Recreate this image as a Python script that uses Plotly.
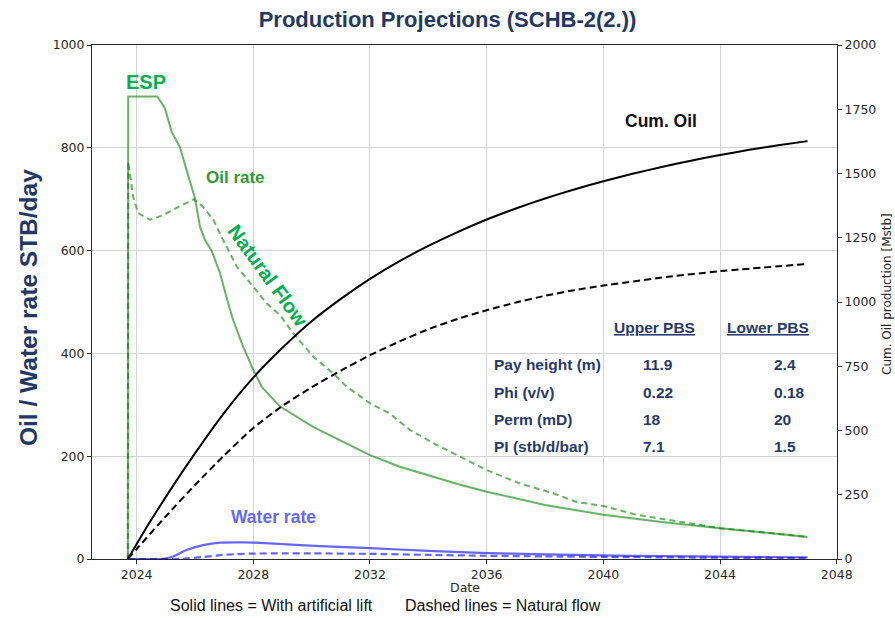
import plotly.graph_objects as go

# ---------------- data ----------------
oil_esp_years = [2023.70, 2023.71, 2024.71, 2024.97, 2025.20, 2025.48, 2025.71, 2026.00, 2026.17,
                 2026.34, 2026.57, 2026.86, 2027.14, 2027.31, 2027.65, 2028.00, 2028.29, 2028.91,
                 2030.05, 2032.00, 2033.00, 2034.00, 2035.00, 2036.00, 2038.00, 2040.00, 2042.00,
                 2044.00, 2047.00]
oil_esp_rate = [0, 900, 900, 877, 831, 802, 757, 702, 647,
                621, 600, 556, 497, 465, 413, 368, 335, 297,
                257, 202, 180, 163, 146, 131, 105, 86, 72,
                60, 43]

oil_nf_years = [2023.70, 2023.71, 2023.88, 2024.05, 2024.46, 2024.91, 2025.43, 2025.96, 2026.28,
                2026.63, 2026.91, 2027.43, 2028.00, 2028.46, 2028.91, 2029.37, 2030.05, 2030.74,
                2031.20, 2032.00, 2032.68, 2033.37, 2034.28, 2035.43, 2036.00, 2037.14, 2038.28,
                2039.08, 2040.00, 2041.14, 2042.28, 2044.00, 2047.00]
oil_nf_rate = [0, 773, 705, 673, 660, 669, 685, 700, 685,
               660, 627, 569, 530, 497, 475, 439, 394, 361,
               335, 303, 283, 251, 222, 189, 173, 147, 128,
               111, 103, 86, 76, 60, 43]

water_esp_years = [2023.70, 2024.90, 2025.25, 2025.71, 2026.28, 2026.86, 2027.43, 2028.00, 2028.57,
                   2030.28, 2032.00, 2034.00, 2035.77, 2038.00, 2040.00, 2042.00, 2044.00, 2047.00]
water_esp_rate = [0, 0.5, 5, 17.5, 27, 32, 32.5, 32, 30.5,
                  25, 21, 16, 12, 9, 7, 5.5, 4.5, 3.3]

water_nf_years = [2023.70, 2025.50, 2026.28, 2026.86, 2027.43, 2028.00, 2029.00, 2030.05, 2032.00,
                  2034.00, 2035.77, 2038.00, 2040.00, 2044.00, 2047.00]
water_nf_rate = [0, 0.3, 4, 7.5, 9.5, 10.5, 11, 11, 10,
                 8, 6.5, 5, 4, 2.5, 1.5]

cum_esp_years = [2023.70, 2024.40, 2025.14, 2026, 2027, 2028, 2029, 2030, 2031, 2032, 2033, 2034,
                 2035, 2036, 2037, 2038, 2039, 2040, 2041, 2042, 2043, 2044, 2045, 2046, 2047]
cum_esp_mstb = [0, 134, 266, 411, 569, 706, 822, 925, 1012, 1090, 1158, 1218,
                1272, 1321, 1364, 1403, 1438, 1470, 1499, 1525, 1550, 1572, 1592, 1610, 1626]

cum_nf_years = [2023.70, 2024, 2025, 2026, 2027, 2028, 2029, 2030, 2031, 2032, 2033, 2034,
                2035, 2036, 2037, 2038, 2039, 2040, 2042, 2044, 2047]
cum_nf_mstb = [0, 39, 166, 288, 403, 510, 596, 668, 733, 793, 846, 894,
               934, 968, 998, 1024, 1046, 1064, 1095, 1120, 1148]

x_ticks = [2024, 2028, 2032, 2036, 2040, 2044, 2048]
y_left_ticks = [0, 200, 400, 600, 800, 1000]
y_right_ticks = [0, 250, 500, 750, 1000, 1250, 1500, 1750, 2000]

table_rows = ["Pay height (m)", "Phi (v/v)", "Perm (mD)", "PI (stb/d/bar)"]
table_headers = ["Upper PBS", "Lower PBS"]
upper_vals = ["11.9", "0.22", "18", "7.1"]
lower_vals = ["2.4", "0.18", "20", "1.5"]

# ---------------- styles ----------------
GREEN = "rgba(0,128,0,0.6)"
BLUE = "rgba(0,0,255,0.6)"
NAVY = "#1f3864"
TNAVY = "#27396b"
ARIAL = "Liberation Sans, Arial, sans-serif"
DEJAVU = "DejaVu Sans, sans-serif"
AX = "#262626"

# plot area in pixels
L, R, T, B = 92, 837, 45, 559
W, H = 895, 618


def px(xp):
    return (xp - L) / (R - L)


def py(yp):
    return (B - yp) / (B - T)


fig = go.Figure()

fig.add_trace(go.Scatter(x=water_esp_years, y=water_esp_rate, mode="lines",
                         line=dict(color=BLUE, width=2.2, shape="spline", smoothing=0.6),
                         showlegend=False, hoverinfo="skip"))
fig.add_trace(go.Scatter(x=water_nf_years, y=water_nf_rate, mode="lines",
                         line=dict(color=BLUE, width=2.2, dash="7px,4px", shape="spline", smoothing=0.6),
                         showlegend=False, hoverinfo="skip"))
fig.add_trace(go.Scatter(x=oil_esp_years, y=oil_esp_rate, mode="lines",
                         line=dict(color=GREEN, width=2),
                         showlegend=False, hoverinfo="skip"))
fig.add_trace(go.Scatter(x=oil_nf_years, y=oil_nf_rate, mode="lines",
                         line=dict(color=GREEN, width=2, dash="6px,4px"),
                         showlegend=False, hoverinfo="skip"))
fig.add_trace(go.Scatter(x=cum_esp_years, y=cum_esp_mstb, mode="lines", yaxis="y2",
                         line=dict(color="black", width=2, shape="spline", smoothing=0.5),
                         showlegend=False, hoverinfo="skip"))
fig.add_trace(go.Scatter(x=cum_nf_years, y=cum_nf_mstb, mode="lines", yaxis="y2",
                         line=dict(color="black", width=2, dash="7px,4px", shape="spline", smoothing=0.5),
                         showlegend=False, hoverinfo="skip"))

axis_common = dict(
    showline=True, linecolor=AX, linewidth=1,
    ticks="outside", ticklen=4, tickwidth=1, tickcolor=AX,
    tickfont=dict(family=DEJAVU, size=12.5, color=AX),
    zeroline=False,
)

fig.update_layout(
    width=W, height=H, autosize=False,
    margin=dict(l=L, r=W - R, t=T, b=H - B, pad=0),
    plot_bgcolor="white", paper_bgcolor="white",
    title=dict(text="<b>Production Projections (SCHB-2(2.))</b>",
               font=dict(family=ARIAL, size=22, color=NAVY),
               x=0.5, xref="container", xanchor="center",
               y=1 - 19 / H, yref="container", yanchor="middle"),
    xaxis=dict(range=[2022.47, 2048.01], tickvals=x_ticks, ticktext=[str(v) for v in x_ticks],
               showgrid=True, gridcolor="#d3d3d3", gridwidth=1, mirror=True, **axis_common),
    yaxis=dict(range=[0, 1000], tickvals=y_left_ticks,
               showgrid=True, gridcolor="#d3d3d3", gridwidth=1, mirror=True, **axis_common),
    yaxis2=dict(range=[0, 2000], tickvals=y_right_ticks, overlaying="y", side="right",
                showgrid=False, **axis_common),
    showlegend=False,
)

ann = []


def add(text, xp, yp, size, color, family=ARIAL, xanchor="center", angle=0):
    ann.append(dict(text=text, x=px(xp), y=py(yp), xref="paper", yref="paper",
                    xanchor=xanchor, yanchor="middle", showarrow=False, textangle=angle,
                    font=dict(family=family, size=size, color=color)))


# axis titles & footer
add("<b>Oil / Water rate STB/day</b>", 28.5, 307.5, 24.5, NAVY, angle=-90)
add("Cum. Oil production [Mstb]", 887, 294, 12, AX, family=DEJAVU, angle=-90)
add("Date", 465, 587, 12.5, AX, family=DEJAVU)
add("Solid lines = With artificial lift", 271.5, 605, 16, "#111111")
add("Dashed lines = Natural flow", 503, 605, 16, "#111111")

# in-chart labels
add("<b>ESP</b>", 146, 82, 20, "#00b050")
add("<b>Oil rate</b>", 235.7, 177.3, 17, "#339933")
add("<b>Natural Flow</b>", 267.5, 275, 20, "#00b050", angle=54)
add("<b>Cum. Oil</b>", 660.7, 120.7, 17.5, "#111111")
add("<b>Water rate</b>", 273, 517.3, 17.5, "#6666ff")

# parameter table
header_x = [654.5, 767.7]
for hx, htxt in zip(header_x, table_headers):
    add("<b><u>" + htxt + "</u></b>", hx, 327.3, 15.5, TNAVY)
row_y = [364.3, 392.3, 419.3, 446.7]
for ry, lab, uv, lv in zip(row_y, table_rows, upper_vals, lower_vals):
    add("<b>" + lab + "</b>", 491.7, ry, 15.5, TNAVY, xanchor="left")
    add("<b>" + uv + "</b>", 640.7, ry, 15.5, TNAVY, xanchor="left")
    add("<b>" + lv + "</b>", 771.7, ry, 15.5, TNAVY, xanchor="left")

fig.update_layout(annotations=ann)

fig.write_html("out.html", config={"displayModeBar": False},
               post_script="document.body.style.margin='0';")
